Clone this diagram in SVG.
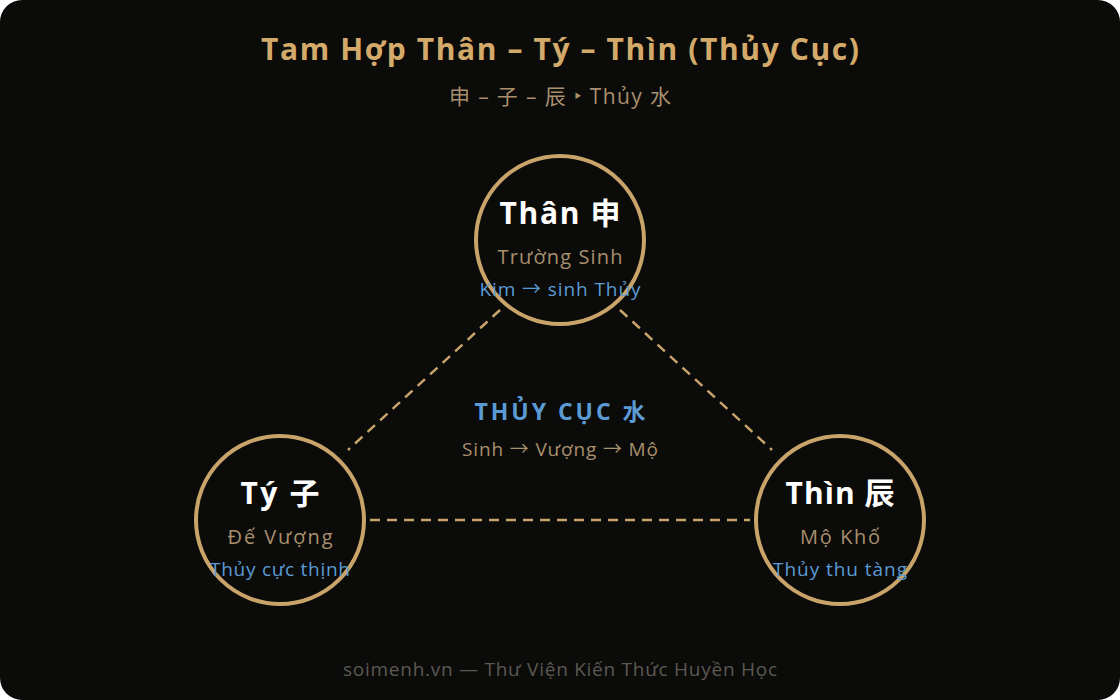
<svg xmlns="http://www.w3.org/2000/svg" width="1120" height="700" viewBox="0 0 1120 700">
<style>
text{font-family:"Open Sans","Noto Sans","Noto Sans CJK SC",sans-serif;text-anchor:middle}
.title{font-size:30px;font-weight:700;fill:#d4aa6b}
.sub{font-size:21px;fill:#a88f6e}
.ring{fill:#0b0b09;stroke:#c8a46a;stroke-width:4}
.name{font-size:30px;font-weight:700;fill:#ffffff}
.role{font-size:20px;fill:#a88f6e}
.note{font-size:19px;fill:#5b9bd5}
.conn{stroke:#c8a46a;stroke-width:2.5;stroke-dasharray:10 7;fill:none}
.center{font-size:23px;font-weight:700;fill:#5b9bd5}
.flow{font-size:19px;fill:#a88f6e}
.foot{font-size:19px;fill:#5c5953}
</style>
<rect x="0" y="0" width="1120" height="700" rx="22" fill="#0b0b09"/>
<text class="title" x="560" y="60" textLength="598" lengthAdjust="spacing">Tam Hợp Thân – Tý – Thìn (Thủy Cục)</text>
<text class="sub" x="560" y="104" textLength="222" lengthAdjust="spacing">申 – 子 – 辰 ‣ Thủy 水</text>
<g id="connectors">
<line class="conn" x1="500" y1="310" x2="348" y2="450"/>
<line class="conn" x1="620" y1="310" x2="772" y2="450"/>
<line class="conn" x1="370" y1="520" x2="750" y2="520"/>
</g>
<g id="center-label">
<text class="center" x="560" y="420" textLength="171" lengthAdjust="spacing">THỦY CỤC 水</text>
<text class="flow" x="560" y="456" textLength="196" lengthAdjust="spacing">Sinh → Vượng → Mộ</text>
</g>
<g id="node-than">
<circle class="ring" cx="560" cy="240" r="84"/>
<text class="name" x="560" y="224" textLength="121" lengthAdjust="spacing">Thân 申</text>
<text class="role" x="560" y="264" textLength="125" lengthAdjust="spacing">Trường Sinh</text>
<text class="note" x="560" y="296" textLength="161" lengthAdjust="spacing">Kim → sinh Thủy</text>
</g>
<g id="node-ty">
<circle class="ring" cx="280" cy="520" r="84"/>
<text class="name" x="280" y="504" textLength="79" lengthAdjust="spacing">Tý 子</text>
<text class="role" x="280" y="544" textLength="105" lengthAdjust="spacing">Đế Vượng</text>
<text class="note" x="280" y="576" textLength="140" lengthAdjust="spacing">Thủy cực thịnh</text>
</g>
<g id="node-thin">
<circle class="ring" cx="840" cy="520" r="84"/>
<text class="name" x="840" y="504" textLength="109" lengthAdjust="spacing">Thìn 辰</text>
<text class="role" x="840" y="544" textLength="80" lengthAdjust="spacing">Mộ Khố</text>
<text class="note" x="840" y="576" textLength="134" lengthAdjust="spacing">Thủy thu tàng</text>
</g>
<text class="foot" x="560" y="676" textLength="434" lengthAdjust="spacing">soimenh.vn — Thư Viện Kiến Thức Huyền Học</text>
</svg>
